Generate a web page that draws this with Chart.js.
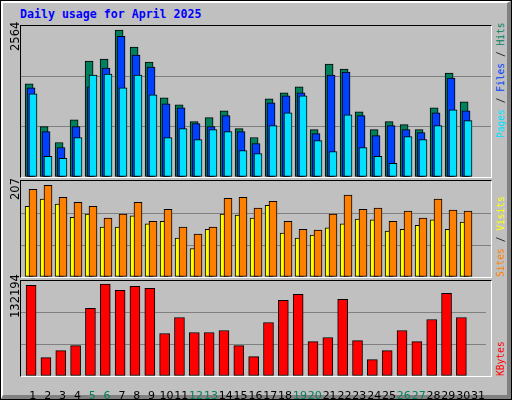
<!DOCTYPE html>
<html>
<head>
<meta charset="utf-8">
<script src="https://cdn.jsdelivr.net/npm/chart.js@4"></script>
<style>
  body { margin: 0; background: #c0c0c0; }
  #frame { position: absolute; left: 0; top: 0; width: 512px; height: 400px; box-sizing: border-box;
    border: 1px solid #000; background: #c0c0c0; }
  #bevel { position: absolute; left: 0; top: 0; right: 0; bottom: 0;
    border-left: 2px solid #fff; border-top: 2px solid #fff;
    border-right: 4px solid #808080; border-bottom: 4px solid #808080; }
  .panel { position: absolute; left: 20px; width: 470px; box-sizing: content-box;
    border-top: 1px solid #000; border-left: 1px solid #000;
    border-right: 1px solid #fff; border-bottom: 1px solid #fff; }
  canvas { position: absolute; }
  .title { position: absolute; left: 20px; top: 7px; font: bold 11.6px "DejaVu Sans Mono", monospace; color: #0000ff; }
  .ymax { position: absolute; font: 11.5px "DejaVu Sans", sans-serif; color: #000;
    transform-origin: left top; transform: rotate(-90deg); white-space: nowrap; }
  .side { position: absolute; font: 9.6px "DejaVu Sans Mono", monospace;
    transform-origin: left top; transform: rotate(-90deg); white-space: nowrap; }
</style>
</head>
<body>
<div id="frame"><div id="bevel"></div></div>
<div class="title">Daily usage for April 2025</div>

<div class="panel" style="top:25px;height:151px"></div>
<div class="panel" style="top:180px;height:96px"></div>
<div class="panel" style="top:280px;height:95px"></div>

<canvas id="top" width="470" height="151" style="left:21px;top:26px"></canvas>
<canvas id="mid" width="470" height="96" style="left:21px;top:181px"></canvas>
<canvas id="bot" width="470" height="119" style="left:21px;top:281px"></canvas>

<div class="ymax" style="left:8px;top:51px">2564</div>
<div class="ymax" style="left:8px;top:200px">207</div>
<div class="ymax" style="left:8px;top:318px">132194</div>

<div class="side" style="left:495px;top:138px"><span style="color:#00e0ff">Pages</span> / <span style="color:#0040ff">Files</span> / <span style="color:#00805c">Hits</span></div>
<div class="side" style="left:495px;top:277px"><span style="color:#ff8000">Sites</span> / <span style="color:#ffff00">Visits</span></div>
<div class="side" style="left:495px;top:376px"><span style="color:#ff0000">KBytes</span></div>

<script>
// Days of the month
const days = Array.from({ length: 31 }, (_, i) => i + 1);
const weekendDays = [5, 6, 12, 13, 19, 20, 26, 27];

// Values (day 31 has no data)
const hits = [1623, 878, 601, 999, 2021, 2056, 2564, 2264, 2004, 1380, 1259, 965, 1034, 1155, 843, 688,
  1363, 1467, 1571, 826, 1969, 1883, 1138, 826, 965, 913, 826, 1207, 1813, 1311, 0];
const files = [1554, 792, 514, 878, 1571, 1900, 2454, 2125, 1917, 1276, 1207, 930, 878, 1069, 792, 584,
  1294, 1415, 1467, 757, 1779, 1831, 1069, 722, 895, 826, 774, 1121, 1727, 1155, 0];
const pages = [1450, 359, 324, 688, 1779, 1796, 1554, 1779, 1432, 688, 843, 653, 826, 792, 462, 410,
  895, 1121, 1415, 636, 445, 1086, 514, 359, 237, 705, 653, 895, 1173, 982, 0];
const visits = [160, 176, 165, 135, 142, 113, 113, 138, 120, 126, 88, 64, 108, 142, 140, 133,
  162, 99, 88, 95, 111, 120, 131, 129, 104, 108, 117, 129, 108, 124, 0];
const sites = [198, 207, 180, 169, 160, 133, 142, 169, 126, 153, 113, 97, 113, 178, 180, 156,
  171, 126, 108, 106, 142, 185, 153, 156, 126, 149, 133, 176, 151, 149, 0];
const kbytes = [130297, 26444, 36541, 43753, 97122, 132194, 123085, 128854, 125970, 61062, 84140, 62504,
  62504, 65389, 43753, 27886, 76928, 108661, 117315, 49522, 55292, 110103, 50965, 23559, 36541, 65389,
  49522, 81255, 118758, 84140, 0];

const pts = (arr, off) => arr.map((v, i) => ({ x: days[i] + off, y: v })).filter(p => p.y > 0);

function bars(label, arr, off, color, width, order) {
  return { label, data: pts(arr, off), backgroundColor: color, borderColor: "#000", borderWidth: 1,
    borderSkipped: false, barThickness: width, grouped: false, order };
}

function options(yMax, showTicks) {
  const x = {
    type: "linear", min: 0.2, max: 31.533, offset: false,
    grid: { display: false }, border: { display: false },
    display: showTicks,
    ticks: {
      stepSize: 1, includeBounds: false, autoSkip: false, maxRotation: 0, padding: 6,
      font: { family: "DejaVu Sans", size: 11 },
      color: (c) => (weekendDays.includes(c.tick.value) ? "#00805c" : "#000"),
      callback: (v) => (Number.isInteger(v) ? String(v) : ""),
    },
  };
  if (showTicks) x.afterFit = (s) => { s.height = 24; };
  return {
    responsive: false, animation: false,
    layout: { padding: 0 },
    plugins: { legend: { display: false }, tooltip: { enabled: false } },
    scales: {
      x,
      y: {
        min: 0, max: yMax,
        ticks: { display: false, count: 4 },
        border: { display: false },
        grid: { drawTicks: false, color: (c) => (c.index === 1 || c.index === 2 ? "#808080" : "transparent") },
        afterFit: (s) => { s.width = 0; },
      },
    },
  };
}

new Chart(document.getElementById("top"), {
  type: "bar",
  data: { datasets: [
    bars("Pages", pages, 0, "#00e0ff", 8, 0),
    bars("Files", files, -0.13, "#0040ff", 8, 1),
    bars("Hits", hits, -0.26, "#00805c", 8, 2),
  ] },
  options: options(2633, false),
});

new Chart(document.getElementById("mid"), {
  type: "bar",
  data: { datasets: [
    bars("Visits", sites, 0, "#ff8000", 8, 0),
    bars("Sites", visits, -0.26, "#ffff00", 8, 1),
  ] },
  options: options(217, false),
});

new Chart(document.getElementById("bot"), {
  type: "bar",
  data: { datasets: [bars("KBytes", kbytes, -0.12, "#ff0000", 10, 0)] },
  options: options(136560, true),
});
</script>
</body>
</html>
